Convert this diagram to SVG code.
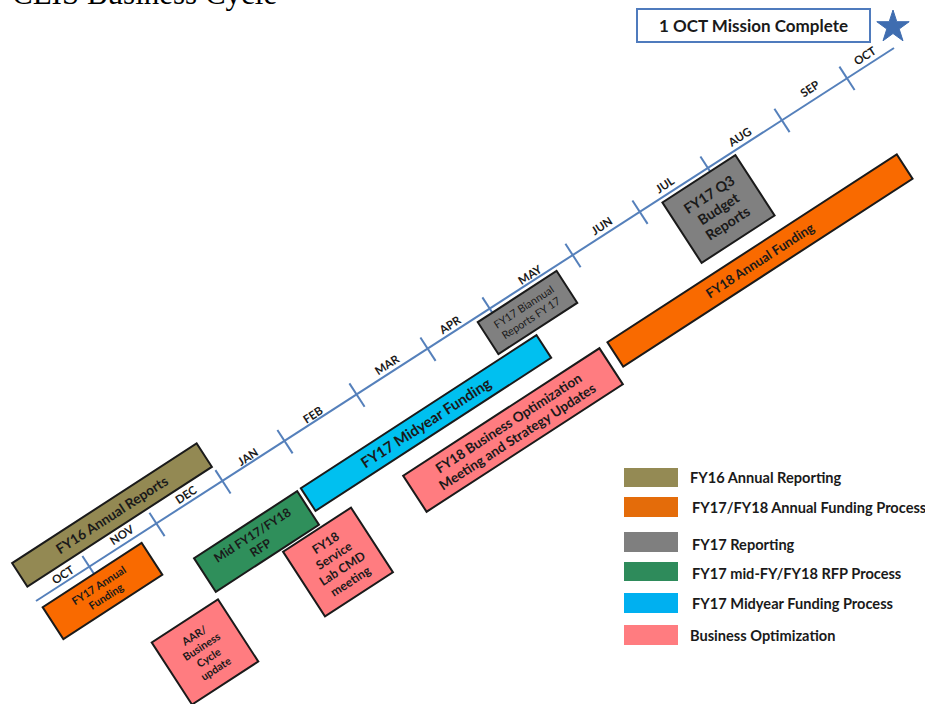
<svg xmlns="http://www.w3.org/2000/svg" width="925" height="704" viewBox="0 0 925 704">
<style>
  .box { stroke: #1a1a1a; stroke-width: 2; }
  .bt { font-family: Lato, "Open Sans", "Liberation Sans", sans-serif; font-weight: bold; fill: #1a1a1a; text-anchor: middle; }
  .mon { font-family: Lato, "Open Sans", "Liberation Sans", sans-serif; font-weight: bold; font-size: 11.5px; fill: #1a1a1a; text-anchor: middle; }
  .lg { font-family: Lato, "Open Sans", "Liberation Sans", sans-serif; font-weight: bold; font-size: 14.6px; fill: #1a1a1a; }
  .axis { stroke: #5580bb; stroke-width: 2; fill: none; }
  .olive { fill: #938953; }
  .orange { fill: #f96a00; }
  .gray { fill: #808080; }
  .green { fill: #2f8f5b; }
  .cyan { fill: #00c0f0; }
  .pink { fill: #ff7c80; }
</style>

<rect width="925" height="704" fill="#ffffff"/>

<text x="12" y="4" font-family="'Liberation Serif', serif" font-size="31" fill="#000">CEIS Business Cycle</text>

<g id="timeline">
  <line class="axis" x1="36" y1="601" x2="894" y2="48"/>
  <g class="axis">
    <line x1="82.4" y1="556" x2="97.6" y2="579.4"/>
    <line x1="149.4" y1="512.7" x2="164.6" y2="536.1"/>
    <line x1="215.4" y1="470.1" x2="230.6" y2="493.5"/>
    <line x1="277.4" y1="430" x2="292.6" y2="453.4"/>
    <line x1="349.4" y1="383.4" x2="364.6" y2="406.8"/>
    <line x1="420.4" y1="337.5" x2="435.6" y2="360.9"/>
    <line x1="482.4" y1="297.4" x2="497.6" y2="320.8"/>
    <line x1="565.4" y1="243.8" x2="580.6" y2="267.2"/>
    <line x1="632.4" y1="200.5" x2="647.6" y2="223.9"/>
    <line x1="700.4" y1="156.5" x2="715.6" y2="179.9"/>
    <line x1="774.4" y1="108.7" x2="789.6" y2="132.1"/>
    <line x1="839.4" y1="66.6" x2="854.6" y2="90"/>
  </g>
  <g class="mon">
    <text transform="translate(63,575) rotate(-33)" dy="4">OCT</text>
    <text transform="translate(122,535) rotate(-33)" dy="4">NOV</text>
    <text transform="translate(186,495) rotate(-33)" dy="4">DEC</text>
    <text transform="translate(248,457) rotate(-33)" dy="4">JAN</text>
    <text transform="translate(313,415) rotate(-33)" dy="4">FEB</text>
    <text transform="translate(387,365) rotate(-33)" dy="4">MAR</text>
    <text transform="translate(450,325) rotate(-33)" dy="4">APR</text>
    <text transform="translate(530,275) rotate(-33)" dy="4">MAY</text>
    <text transform="translate(602,226) rotate(-33)" dy="4">JUN</text>
    <text transform="translate(665,185) rotate(-33)" dy="4">JUL</text>
    <text transform="translate(740,137) rotate(-33)" dy="4">AUG</text>
    <text transform="translate(810,89) rotate(-33)" dy="4">SEP</text>
    <text transform="translate(865,56) rotate(-33)" dy="4">OCT</text>
  </g>
</g>

<g id="mission">
  <rect x="637" y="9" width="233" height="33" fill="#ffffff" stroke="#4f7bbd" stroke-width="2"/>
  <text x="753.5" y="31.5" class="bt" font-size="17">1 OCT Mission Complete</text>
  <polygon points="893,10 896.8,21.7 909.2,21.7 899.2,29 903,40.8 893,33.5 883,40.8 886.8,29 876.8,21.7 889.2,21.7" fill="#3f6db0" stroke="#3f6db0" stroke-width="1"/>
</g>

<g id="fy16-annual-reports" transform="translate(112,515) rotate(-33)">
  <rect class="box olive" x="-110" y="-14" width="220" height="28"/>
  <text class="bt" font-size="13.8" y="4.8">FY16 Annual Reports</text>
</g>

<g id="fy17-annual-funding" transform="translate(102.5,591) rotate(-33)">
  <rect class="box orange" x="-59" y="-19" width="118" height="38"/>
  <text class="bt" font-size="10.8"><tspan x="0" y="-2.8">FY17 Annual</tspan><tspan x="0" y="10.4">Funding</tspan></text>
</g>

<g id="aar-business-cycle" transform="translate(205,652) rotate(-33)">
  <rect class="box pink" x="-39.5" y="-37" width="79" height="74"/>
  <text class="bt" font-size="10.8"><tspan x="0" y="-15.8">AAR/</tspan><tspan x="0" y="-2.6">Business</tspan><tspan x="0" y="10.6">Cycle</tspan><tspan x="0" y="23.8">update</tspan></text>
</g>

<g id="mid-fy17-rfp" transform="translate(256.5,541.5) rotate(-33)">
  <rect class="box green" x="-61.5" y="-20" width="123" height="40"/>
  <text class="bt" font-size="12.3"><tspan x="0" y="-3.3">Mid FY17/FY18</tspan><tspan x="0" y="11.9">RFP</tspan></text>
</g>

<g id="fy18-service-lab" transform="translate(338,562) rotate(-33)">
  <rect class="box pink" x="-40.5" y="-38.5" width="81" height="77"/>
  <text class="bt" font-size="12.3"><tspan x="0" y="-18.3">FY18</tspan><tspan x="0" y="-3.1">Service</tspan><tspan x="0" y="12.1">Lab CMD</tspan><tspan x="0" y="27.3">meeting</tspan></text>
</g>

<g id="fy17-midyear-funding" transform="translate(426,423) rotate(-33)">
  <rect class="box cyan" x="-140.5" y="-13.5" width="281" height="27"/>
  <text class="bt" font-size="15" y="5.25">FY17 Midyear Funding</text>
</g>

<g id="fy17-biannual-reports" transform="translate(527.5,312.5) rotate(-33)">
  <rect class="box gray" x="-47" y="-19" width="94" height="38"/>
  <text class="bt" font-size="10.8" style="font-weight:normal"><tspan x="0" y="-2.8">FY17 Biannual</tspan><tspan x="0" y="10.4">Reports FY 17</tspan></text>
</g>

<g id="fy18-business-optimization" transform="translate(513,430) rotate(-33)">
  <rect class="box pink" x="-117" y="-21.5" width="234" height="43"/>
  <text class="bt" font-size="13.6"><tspan x="0" y="-3.4">FY18 Business Optimization</tspan><tspan x="0" y="12.8">Meeting and Strategy Updates</tspan></text>
</g>

<g id="fy18-annual-funding" transform="translate(760,260.5) rotate(-33)">
  <rect class="box orange" x="-172.5" y="-14.5" width="345" height="29"/>
  <text class="bt" font-size="13.2" y="4.6">FY18 Annual Funding</text>
</g>

<g id="fy17-q3-budget" transform="translate(718.5,209) rotate(-33)">
  <rect class="box gray" x="-43.5" y="-36" width="87" height="72"/>
  <text class="bt" font-size="14.3"><tspan x="0" y="-12.1">FY17 Q3</tspan><tspan x="0" y="5">Budget</tspan><tspan x="0" y="22.1">Reports</tspan></text>
</g>

<g id="legend">
  <rect x="624" y="468" width="54" height="19" fill="#948a54"/>
  <text class="lg" x="690" y="482.5">FY16 Annual Reporting</text>
  <rect x="624" y="497" width="54" height="20" fill="#e46c0a"/>
  <text class="lg" x="692" y="512.5">FY17/FY18 Annual Funding Process</text>
  <rect x="624" y="532" width="54" height="20" fill="#7f7f7f"/>
  <text class="lg" x="692" y="549.5">FY17 Reporting</text>
  <rect x="624" y="562" width="54" height="19" fill="#2e8b5b"/>
  <text class="lg" x="692" y="578.5">FY17 mid-FY/FY18 RFP Process</text>
  <rect x="624" y="593" width="54" height="20" fill="#00b0f0"/>
  <text class="lg" x="692" y="608.5">FY17 Midyear Funding Process</text>
  <rect x="624" y="625" width="54" height="20" fill="#ff7c80"/>
  <text class="lg" x="690" y="640.5">Business Optimization</text>
</g>
</svg>
